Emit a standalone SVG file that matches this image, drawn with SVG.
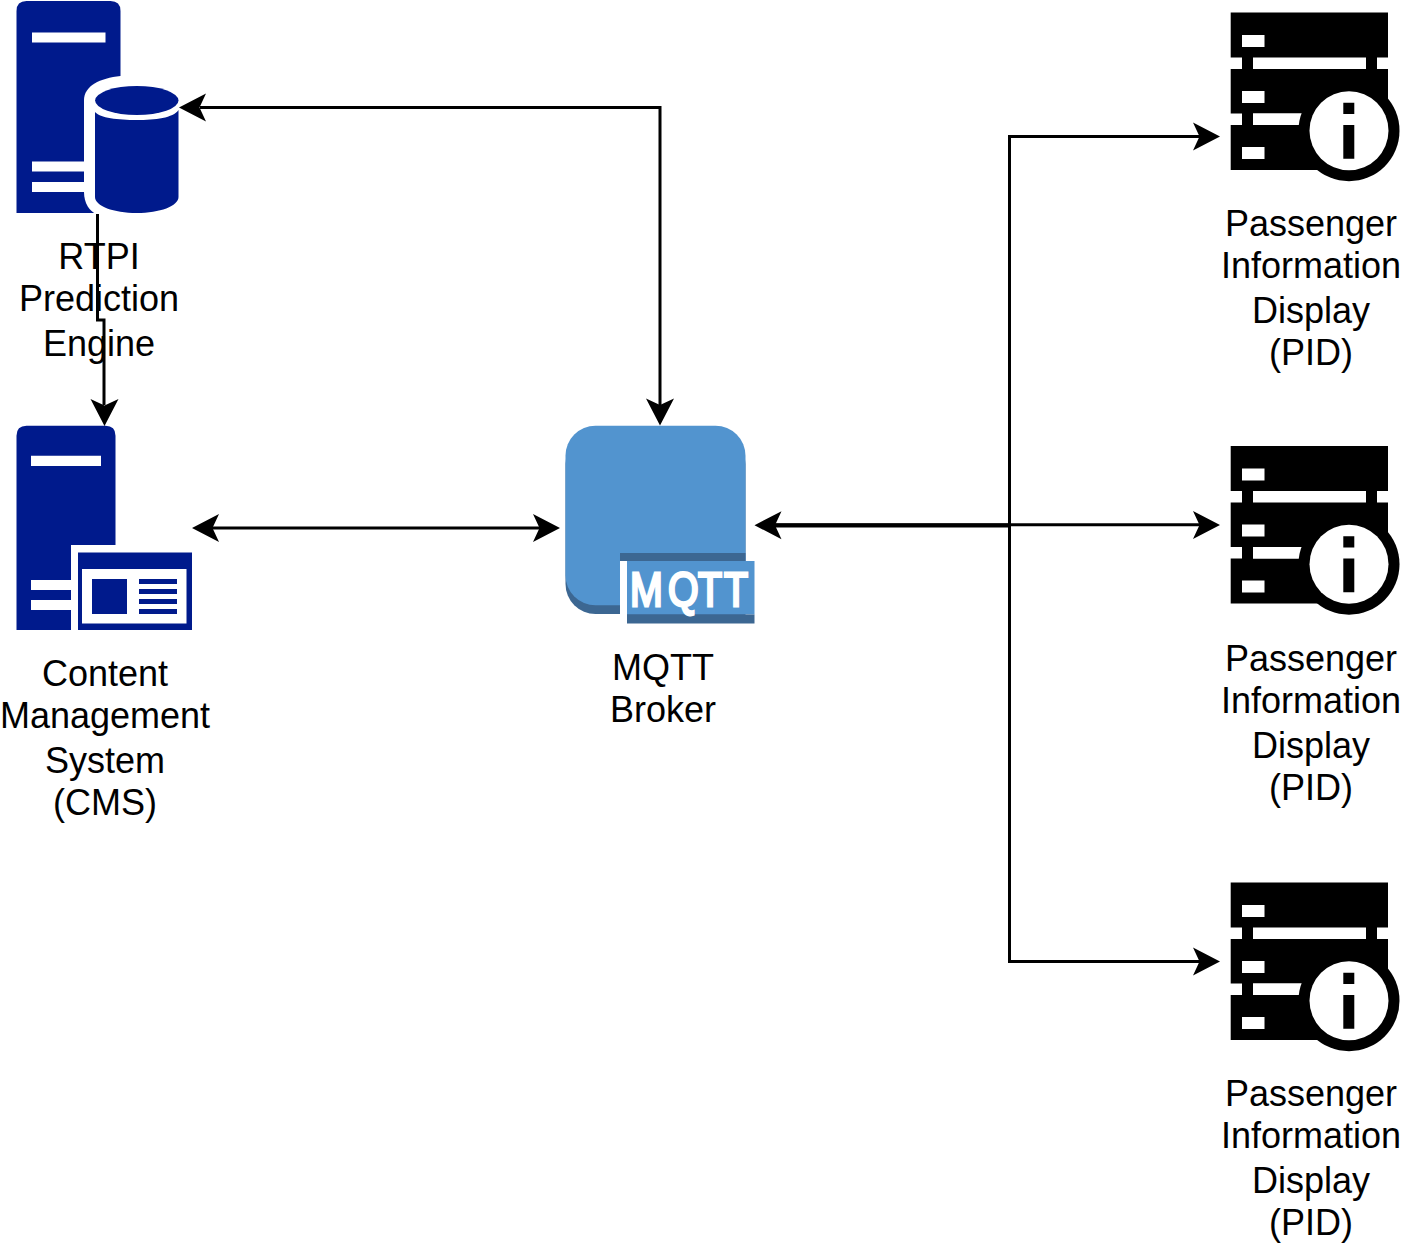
<svg xmlns="http://www.w3.org/2000/svg" xmlns:xlink="http://www.w3.org/1999/xlink" width="1401" height="1245" viewBox="0 0 1401 1245">
<style>
.lbl{font-family:"Liberation Sans",Arial,sans-serif;font-size:36px;fill:#000;text-anchor:middle}
.con{fill:none;stroke:#000;stroke-width:3}
.navy{fill:#001a8c}
.w{fill:#fff}
</style>
<defs>
<path id="ah" d="M0 0L-27 -14L-20.500 0L-27 14Z" fill="#000"/>
<g id="pid">
<path fill="#000" d="M1230.700 12.500H1388V57.500H1377V69H1388V113.500H1230.700V69H1242V57.500H1230.700ZM1230.700 125H1242V113.500H1253V125H1349V170H1230.700Z"/>
<path fill="#fff" d="M1253 57.500H1366V69H1253ZM1242 35H1264.500V47H1242ZM1242 91H1264.500V103H1242ZM1242 147H1264.500V159H1242ZM1253 113.500H1302L1299 125H1253Z"/>
<circle cx="1349" cy="130.700" r="50.500" fill="#000"/>
<circle cx="1349" cy="130.700" r="39.500" fill="#fff"/>
<path fill="#000" d="M1343.300 102.700H1354.300V114H1343.300ZM1343.300 125H1354.300V158.700H1343.300Z"/>
</g>
</defs>

<g id="rtpi">
<path class="navy" d="M16.500 213V11Q16.500 1 26.500 1H110.500Q120.500 1 120.500 11V213Z"/>
<path class="w" d="M32 32.500H105.500V42.500H32ZM32 161.500H90V171.500H32ZM32 182H90V192H32Z"/>
<path class="w" d="M120.500 76C100 78 84 86 84 100V192C84 204 90 211 96 214H121V76Z"/>
<path class="navy" d="M95 112C100 118 118 120 136.800 120S173 118 178.500 110V197C178.500 206 160 213 136.800 213S95 206 95 197Z"/>
<ellipse class="navy" cx="136.800" cy="100.500" rx="41.700" ry="14.500"/>
<text class="lbl" x="99" y="269">RTPI</text>
<text class="lbl" x="99" y="311">Prediction</text>
<text class="lbl" x="99" y="356">Engine</text>
</g>

<g id="cms">
<path class="navy" d="M16.500 630V435.700Q16.500 425.700 26.500 425.700H105.500Q115.500 425.700 115.500 435.700V545H71V630Z"/>
<path class="w" d="M31 455.700H101V466H31ZM31 580H71V590H31ZM31 600H71V610H31Z"/>
<rect class="navy" x="78" y="552.500" width="114" height="77.500"/>
<rect class="w" x="82" y="569" width="104.500" height="54.500"/>
<rect class="navy" x="92" y="579" width="35" height="35"/>
<path class="navy" d="M139 579H177V584H139ZM139 589H177V594H139ZM139 599H177V604H139ZM139 609H177V614H139Z"/>
<text class="lbl" x="105" y="686">Content</text>
<text class="lbl" x="105" y="728">Management</text>
<text class="lbl" x="105" y="773">System</text>
<text class="lbl" x="105" y="815">(CMS)</text>
</g>

<g id="mqtt">
<rect x="565.500" y="434" width="180" height="180" rx="30" fill="#3c6792"/>
<rect x="565.500" y="425.700" width="180" height="179.500" rx="30" fill="#5294cf"/>
<rect x="620" y="553" width="125.500" height="62" fill="#3c6792"/>
<rect x="620" y="561" width="7" height="54" fill="#fff"/>
<rect x="627" y="561" width="127.500" height="53.500" fill="#5294cf"/>
<rect x="627" y="614.500" width="127.500" height="9" fill="#3c6792"/>
<text transform="translate(0 605.500) scale(.82 1)" x="768.300 814.600 851.200 882.900" y="0" style="font-family:'Liberation Sans',Arial,sans-serif;font-size:48px;fill:#fff;stroke:#fff;stroke-width:2.800">MQTT</text>
<text class="lbl" x="663" y="680">MQTT</text>
<text class="lbl" x="663" y="722">Broker</text>
</g>

<g id="pid1">
<use xlink:href="#pid" href="#pid"/>
<text class="lbl" x="1311" y="236">Passenger</text>
<text class="lbl" x="1311" y="278">Information</text>
<text class="lbl" x="1311" y="323">Display</text>
<text class="lbl" x="1311" y="365">(PID)</text>
</g>
<g id="pid2">
<use xlink:href="#pid" href="#pid" y="433.500"/>
<text class="lbl" x="1311" y="671">Passenger</text>
<text class="lbl" x="1311" y="713">Information</text>
<text class="lbl" x="1311" y="758">Display</text>
<text class="lbl" x="1311" y="800">(PID)</text>
</g>
<g id="pid3">
<use xlink:href="#pid" href="#pid" y="870"/>
<text class="lbl" x="1311" y="1106">Passenger</text>
<text class="lbl" x="1311" y="1148">Information</text>
<text class="lbl" x="1311" y="1193">Display</text>
<text class="lbl" x="1311" y="1235">(PID)</text>
</g>

<g id="connectors">
<path class="con" d="M97.500 214V320H104V405"/>
<use href="#ah" transform="translate(104.500 426) rotate(90)"/>
<path class="con" d="M200 107.500H660V405"/>
<use href="#ah" transform="translate(179 107.500) rotate(180)"/>
<use href="#ah" transform="translate(660 425.500) rotate(90)"/>
<path class="con" d="M212 528H540"/>
<use href="#ah" transform="translate(192 528) rotate(180)"/>
<use href="#ah" transform="translate(560 528)"/>
<path class="con" d="M775 525H1009.500V136.500H1200"/>
<path class="con" d="M775 524.800H1200"/>
<path class="con" d="M775 526H1009.500V961.500H1200"/>
<use href="#ah" transform="translate(754.500 525.200) rotate(180)"/>
<use href="#ah" transform="translate(1220 136.500)"/>
<use href="#ah" transform="translate(1220 525)"/>
<use href="#ah" transform="translate(1220 961.500)"/>
</g>
</svg>
